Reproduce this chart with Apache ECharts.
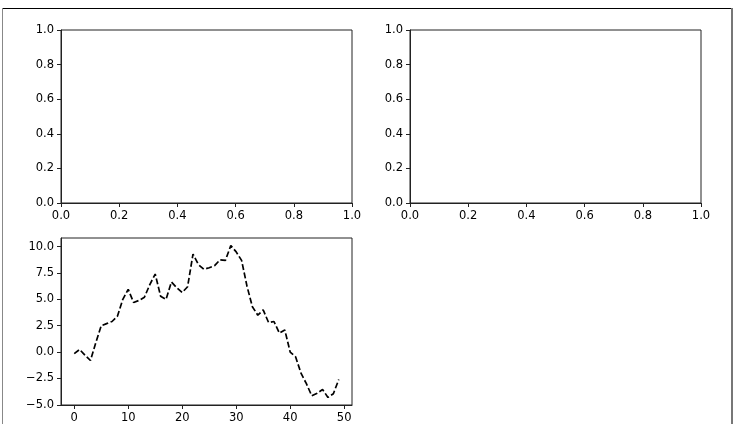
<!DOCTYPE html>
<html>
<head>
<meta charset="utf-8">
<script src="https://cdn.jsdelivr.net/npm/echarts@6/dist/echarts.min.js"></script>
<style>html,body{margin:0;padding:0;background:#fff}#c{width:740px;height:424px}</style>
</head>
<body>
<div id="c"></div>
<script>
// Data
const xValues = [0,1,2,3,4,5,6,7,8,9,10,11,12,13,14,15,16,17,18,19,20,21,22,23,24,25,26,27,28,29,30,31,32,33,34,35,36,37,38,39,40,41,42,43,44,45,46,47,48,49];
const yValues = [-0.15,0.25,-0.3,-0.8,0.9,2.5,2.7,2.9,3.4,5.0,5.95,4.7,4.9,5.2,6.4,7.4,5.3,5.0,6.65,6.1,5.65,6.2,9.3,8.3,7.85,8.0,8.2,8.75,8.7,10.1,9.5,8.7,6.25,4.3,3.5,4.0,2.8,2.9,1.8,2.1,0.0,-0.45,-2.0,-3.0,-4.15,-3.9,-3.55,-4.3,-3.95,-2.6];
const unitTicks = [0,0.2,0.4,0.6,0.8,1.0];
const lineXTicks = [0,10,20,30,40,50];
const lineYTicks = [-5,-2.5,0,2.5,5,7.5,10];

const font = 'DejaVu Sans';
const fs = 11.5;
function fmt1(v){ return v.toFixed(1).replace('-', '\u2212'); }
function fmt0(v){ return String(Math.round(v)).replace('-', '\u2212'); }

function axis(gridIndex, min, max, ticks, formatter){
  return {
    type: 'value', gridIndex, min, max,
    axisLine: {show: true, onZero: false, lineStyle: {color: '#222', width: 1}},
    axisTick: {show: true, length: 4, customValues: ticks, lineStyle: {color: '#222', width: 1}},
    axisLabel: {customValues: ticks, formatter, margin: 7, color: '#000', fontFamily: font, fontSize: fs},
    splitLine: {show: false}
  };
}

const chart = echarts.init(document.getElementById('c'), null, {renderer: 'canvas'});
chart.setOption({
  animation: false,
  backgroundColor: '#fff',
  grid: [
    {left: 61, top: 30, width: 291, height: 173, show: true, borderColor: '#222', borderWidth: 1},
    {left: 410, top: 30, width: 291, height: 173, show: true, borderColor: '#222', borderWidth: 1},
    {left: 61, top: 238, width: 291, height: 173, show: true, borderColor: '#222', borderWidth: 1}
  ],
  xAxis: [
    axis(0, 0, 1, unitTicks, fmt1),
    axis(1, 0, 1, unitTicks, fmt1),
    axis(2, -2.45, 51.45, lineXTicks, fmt0)
  ],
  yAxis: [
    axis(0, 0, 1, unitTicks, fmt1),
    axis(1, 0, 1, unitTicks, fmt1),
    axis(2, -5.02, 10.82, lineYTicks, fmt1)
  ],
  series: [{
    type: 'line', xAxisIndex: 2, yAxisIndex: 2,
    data: xValues.map((x, i) => [x, yValues[i]]),
    showSymbol: false, symbol: 'none',
    lineStyle: {color: '#000', width: 1.7, type: [6, 2.6]}
  }],
  graphic: [
    {type: 'line', shape: {x1: 2, y1: 8.5, x2: 732, y2: 8.5}, style: {stroke: '#000', lineWidth: 1}, silent: true},
    {type: 'line', shape: {x1: 2.5, y1: 8, x2: 2.5, y2: 424}, style: {stroke: '#888', lineWidth: 1}, silent: true},
    {type: 'line', shape: {x1: 732, y1: 8, x2: 732, y2: 424}, style: {stroke: '#777', lineWidth: 2}, silent: true}
  ]
});
</script>
</body>
</html>
